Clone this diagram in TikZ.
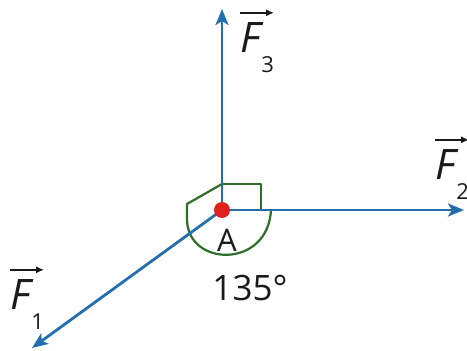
\documentclass[tikz,border=0pt]{standalone}
\usepackage{fontspec}
\setmainfont{Open Sans}
\usepackage{tikz}
\usetikzlibrary{arrows.meta}
\definecolor{FBlue}{HTML}{236EAF}
\definecolor{FGreen}{HTML}{2E6E2A}
\definecolor{FRed}{HTML}{E0201A}
\definecolor{FInk}{HTML}{1A1A1A}
\newcommand{\forcename}[1]{{\itshape F}\kern1pt\raisebox{-20pt}{\fontsize{22}{22}\selectfont #1}}

\begin{document}
\begin{tikzpicture}[x=1pt, y=1pt,
  force/.style={FBlue, line width=2.8pt, -{Stealth[length=16pt,width=13pt,inset=4pt]}},
  vecbar/.style={FInk, line width=1.4pt, -{Latex[length=8pt,width=7pt]}},
  angmark/.style={FGreen, line width=2.2pt, line join=round},
  dot/.style={circle, fill=FRed, draw=none, inner sep=0pt, minimum size=16pt},
  flabel/.style={font=\fontsize{42}{42}\selectfont, text=FInk, inner sep=0pt, anchor=base west},
  ptlabel/.style={font=\fontsize{31}{31}\selectfont, text=FInk, inner sep=0pt}]
\useasboundingbox (0,0) rectangle (467,351);
\coordinate (A) at (222,141);
\coordinate (tip3) at (222,342);
\coordinate (tip2) at (464,141);
\coordinate (tip1) at (32,3);
% angle marks
\draw[angmark] (222,167) -- (261,167) -- (261,141);
\draw[angmark] (222,167) -- (187,147) -- (187,131)
  .. controls (188,84) and (268,82) .. (271,141);
% forces
\draw[force] (A) -- (tip3);
\draw[force] (A) -- (tip2);
\draw[force] (A) -- (tip1);
\node[dot] (Adot) at (A) {};
\node[ptlabel] (Aname) at (227,111) {A};
\node[ptlabel, font=\fontsize{35}{35}\selectfont] (angle) at (250,63) {135°};
% force names
\node[flabel] (F3) at (240,298) {\forcename{3}};
\node[flabel] (F2) at (435,171) {\forcename{2}};
\node[flabel] (F1) at (10,41) {\forcename{1}};
\foreach \f in {F1,F2,F3}
  \draw[vecbar] ([yshift=10pt]\f.north west) -- ([yshift=10pt]\f.north east);
\end{tikzpicture}
\end{document}
